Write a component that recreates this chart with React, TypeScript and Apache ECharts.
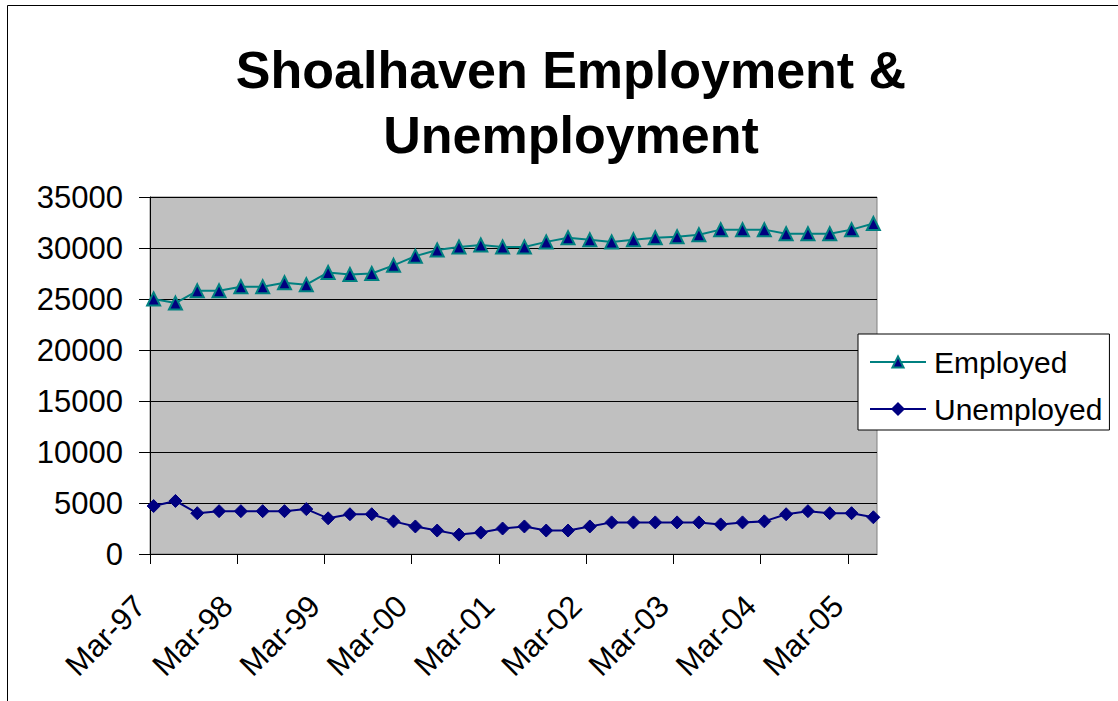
import React, { useEffect, useRef } from "react";
import * as echarts from "echarts";

const quarters = [
  "Mar-97", "Jun-97", "Sep-97", "Dec-97",
  "Mar-98", "Jun-98", "Sep-98", "Dec-98",
  "Mar-99", "Jun-99", "Sep-99", "Dec-99",
  "Mar-00", "Jun-00", "Sep-00", "Dec-00",
  "Mar-01", "Jun-01", "Sep-01", "Dec-01",
  "Mar-02", "Jun-02", "Sep-02", "Dec-02",
  "Mar-03", "Jun-03", "Sep-03", "Dec-03",
  "Mar-04", "Jun-04", "Sep-04", "Dec-04",
  "Mar-05", "Jun-05",
];

const employed = [
  25000, 24600, 25800, 25800, 26200, 26200, 26600, 26400,
  27600, 27400, 27500, 28300, 29200, 29800, 30100, 30300,
  30100, 30100, 30600, 31000, 30800, 30600, 30800, 31000,
  31100, 31300, 31800, 31800, 31800, 31400, 31400, 31400,
  31800, 32400,
];

const unemployed = [
  4700, 5200, 4000, 4200, 4200, 4200, 4200, 4400,
  3500, 3900, 3900, 3200, 2700, 2300, 1900, 2100,
  2500, 2700, 2300, 2300, 2700, 3100, 3100, 3100,
  3100, 3100, 2900, 3100, 3200, 3900, 4200, 4000,
  4000, 3600,
];

const yearLabels = ["Mar-97", "Mar-98", "Mar-99", "Mar-00", "Mar-01", "Mar-02", "Mar-03", "Mar-04", "Mar-05"];

const MONTHS = ["Jan", "Feb", "Mar", "Apr", "May", "Jun", "Jul", "Aug", "Sep", "Oct", "Nov", "Dec"];
// months since 1 Mar 1997, data points dated mid-month
function monthOffset(label: string): number {
  const [m, yy] = label.split("-");
  const y = Number(yy) < 50 ? 2000 + Number(yy) : 1900 + Number(yy);
  return (y - 1997) * 12 + MONTHS.indexOf(m) - 2;
}

const FONT = '"Liberation Sans", Arial, Helvetica, sans-serif';

export default function App() {
  const ref = useRef<HTMLDivElement>(null);
  useEffect(() => {
    if (!ref.current) return;
    const chart = echarts.init(ref.current, null, { renderer: "svg" });
    const tickVals = yearLabels.map((l) => monthOffset(l));
    chart.setOption({
      animation: false,
      backgroundColor: "#ffffff",
      textStyle: { fontFamily: FONT },
      title: {
        text: "Shoalhaven Employment &\nUnemployment",
        left: 566,
        top: 32,
        textAlign: "center",
        textStyle: {
          fontFamily: FONT,
          fontSize: 52,
          fontWeight: "bold",
          color: "#000",
          lineHeight: 65,
        },
      },
      graphic: [
        {
          type: "rect",
          shape: { x: 7.5, y: 5.5, width: 1300, height: 900 },
          style: { fill: "none", stroke: "#000", lineWidth: 1 },
          silent: true,
          z: 100,
        },
      ],
      legend: {
        orient: "vertical",
        left: 858,
        top: 334,
        padding: [10, 7, 3, 11],
        itemGap: 11,
        itemWidth: 56,
        itemHeight: 14,
        backgroundColor: "#ffffff",
        borderColor: "#000",
        borderWidth: 1,
        borderRadius: 0,
        textStyle: {
          fontFamily: FONT,
          fontSize: 30,
          color: "#000",
          lineHeight: 36,
          padding: [0, 0, 0, 3],
        },
        data: ["Employed", "Unemployed"],
      },
      grid: {
        left: 150,
        right: 241,
        top: 197,
        bottom: 147,
        show: true,
        backgroundColor: "#C0C0C0",
        borderColor: "#808080",
        borderWidth: 1,
      },
      xAxis: {
        type: "value",
        min: 0,
        max: 100,
        interval: 12,
        axisLine: { show: true, lineStyle: { color: "#000", width: 1 } },
        axisTick: {
          show: true,
          length: 10,
          lineStyle: { color: "#000" },
          customValues: tickVals,
        },
        splitLine: { show: false },
        axisLabel: {
          customValues: tickVals,
          rotate: 45,
          margin: 37,
          padding: [0, 14, 0, 0],
          fontFamily: FONT,
          fontSize: 31,
          color: "#000",
          formatter: (v: number) => {
            const i = tickVals.indexOf(Math.round(v));
            return i >= 0 ? yearLabels[i] : "";
          },
        },
      },
      yAxis: {
        type: "value",
        min: 0,
        max: 35000,
        interval: 5000,
        axisLine: { show: true, lineStyle: { color: "#000", width: 1 } },
        axisTick: { show: true, length: 11, lineStyle: { color: "#000" } },
        splitLine: { show: true, lineStyle: { color: "#000", width: 1 } },
        axisLabel: {
          margin: 27,
          fontFamily: FONT,
          fontSize: 31,
          color: "#000",
          formatter: (v: number) => String(v),
        },
      },
      series: [
        {
          name: "Employed",
          type: "line",
          data: quarters.map((q, i) => [monthOffset(q) + 0.5, employed[i]]),
          symbol: "triangle",
          symbolSize: 13,
          lineStyle: { color: "#008080", width: 2 },
          itemStyle: { color: "#000080", borderColor: "#008080", borderWidth: 2 },
          z: 3,
        },
        {
          name: "Unemployed",
          type: "line",
          data: quarters.map((q, i) => [monthOffset(q) + 0.5, unemployed[i]]),
          symbol: "diamond",
          symbolSize: 13,
          lineStyle: { color: "#000080", width: 2 },
          itemStyle: { color: "#000080", borderColor: "#000080", borderWidth: 1 },
          z: 3,
        },
      ],
    });
    return () => chart.dispose();
  }, []);
  return (
    <div
      ref={ref}
      style={{ position: "fixed", left: 0, top: 0, width: 1118, height: 701 }}
    />
  );
}
